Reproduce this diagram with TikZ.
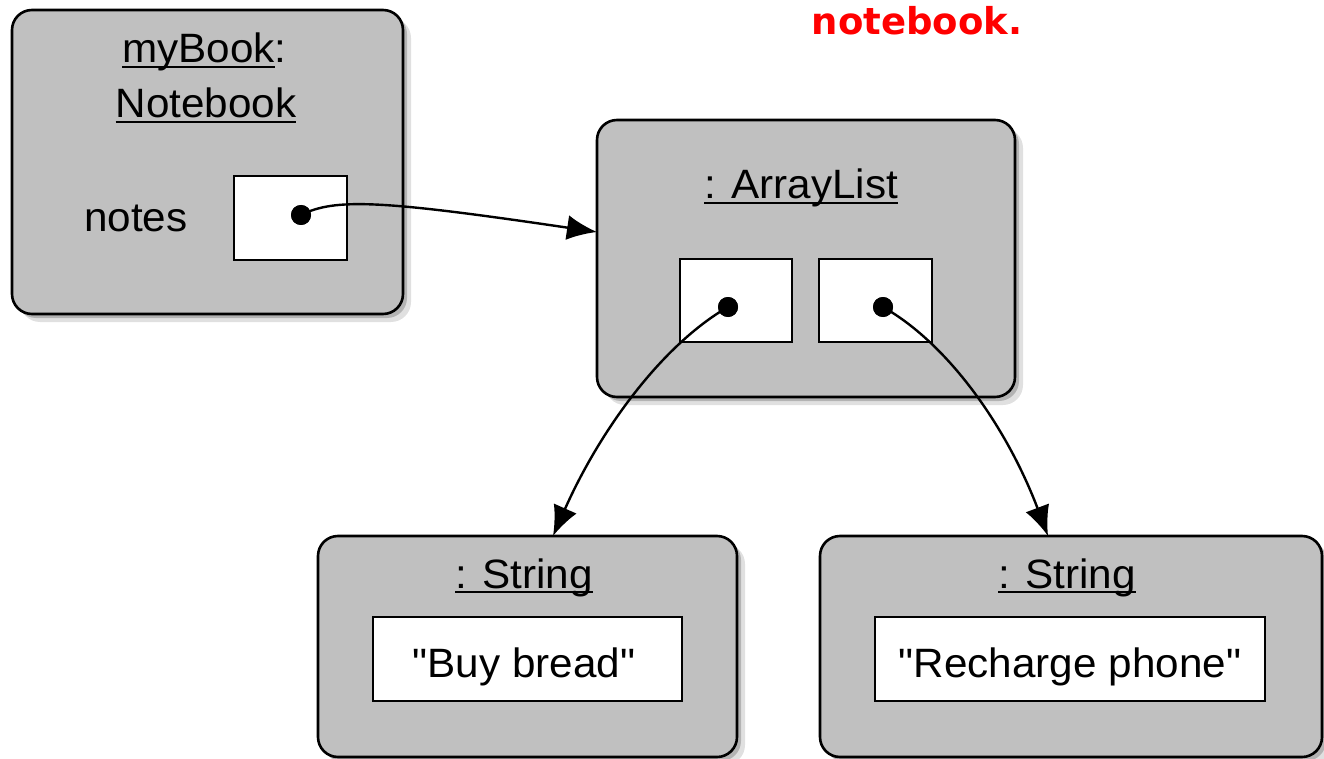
\documentclass[tikz,border=0pt]{standalone}
\usepackage{fontspec}
\newfontfamily\hv{Liberation Sans}[FakeStretch=1.03]
\newfontfamily\redfont{DejaVu Sans}
\usetikzlibrary{arrows.meta,shadows}
\definecolor{boxgray}{RGB}{192,192,192}
\newcommand\myul[1]{\setbox0\hbox{#1}\rlap{\rule[-0.13em]{\wd0}{0.055em}}\box0}
\tikzset{
  objbox/.style={draw=black, line width=2.6pt, fill=boxgray, rounded corners=20pt,
    drop shadow={shadow xshift=4pt, shadow yshift=-4pt, opacity=0.2, fill=black},
    drop shadow={shadow xshift=8pt, shadow yshift=-8pt, opacity=0.12, fill=black},
    inner sep=0pt, outer sep=0pt},
  slotbox/.style={draw=black, line width=2.6pt, fill=white, inner sep=0pt, outer sep=0pt},
  dotnode/.style={circle, fill=black, minimum size=20pt, inner sep=0pt},
  lbl/.style={font=\hv\fontsize{41}{48}\selectfont, inner sep=0pt, anchor=base},
  arr/.style={line width=2.4pt, -{Latex[length=30pt, width=25pt]}},
}
\begin{document}
\begin{tikzpicture}[x=1pt,y=-1pt]
\useasboundingbox (0,0) rectangle (1324,759);
% outer boxes
\node[objbox, minimum width=391pt, minimum height=304pt] (book) at (207.5,162) {};
\node[objbox, minimum width=418pt, minimum height=277pt] (al) at (806,258.5) {};
\node[objbox, minimum width=419pt, minimum height=221pt] (s1) at (527.5,646.5) {};
\node[objbox, minimum width=502pt, minimum height=221pt] (s2) at (1071,646.5) {};
% inner boxes
\node[slotbox, minimum width=113pt, minimum height=84pt] (notesbox) at (290.5,218) {};
\node[slotbox, minimum width=112pt, minimum height=83pt] (slotA) at (736,300.5) {};
\node[slotbox, minimum width=113pt, minimum height=83pt] (slotB) at (875.5,300.5) {};
\node[slotbox, minimum width=309pt, minimum height=84pt] (v1) at (527.5,659) {};
\node[slotbox, minimum width=390pt, minimum height=84pt] (v2) at (1070,659) {};
% labels
\node[lbl] (t1) at (204.5,63) {\myul{myBook}:};
\node[lbl] (t2) at (206,118) {\myul{Notebook}};
\node[lbl, anchor=base west] (t3) at (84,232) {notes};
\node[lbl] (t4) at (801,199) {\myul{: ArrayList}};
\node[lbl] (t5) at (524,588) {\myul{: String}};
\node[lbl] (t6) at (1067,588) {\myul{: String}};
\node[lbl] (t7) at (524,677) {"Buy bread"};
\node[lbl] (t8) at (1070,677) {"Recharge phone"};
\node[anchor=base, inner sep=0pt, text=red, font=\redfont\bfseries\fontsize{37}{44}\selectfont] (red) at (917,35) {notebook.};
% dots
\node[dotnode] (d0) at (301,215) {};
\node[dotnode] (dA) at (728,307) {};
\node[dotnode] (dB) at (883,307) {};
% arrow end points
\coordinate (alin) at (al.west |- 0,232);
\coordinate (s1in) at (s1.north -| 553,0);
\coordinate (s2in) at (s2.north -| 1048,0);
% connectors
\draw[arr] (d0.center) .. controls (335,198) and (380,200) .. (alin);
\draw[arr] (dA.center) .. controls (662,345) and (600,430) .. (s1in);
\draw[arr] (dB.center) .. controls (950,345) and (1008,430) .. (s2in);
% redraw dots on top
\node[dotnode] at (d0) {};
\node[dotnode] at (dA) {};
\node[dotnode] at (dB) {};
\end{tikzpicture}
\end{document}
